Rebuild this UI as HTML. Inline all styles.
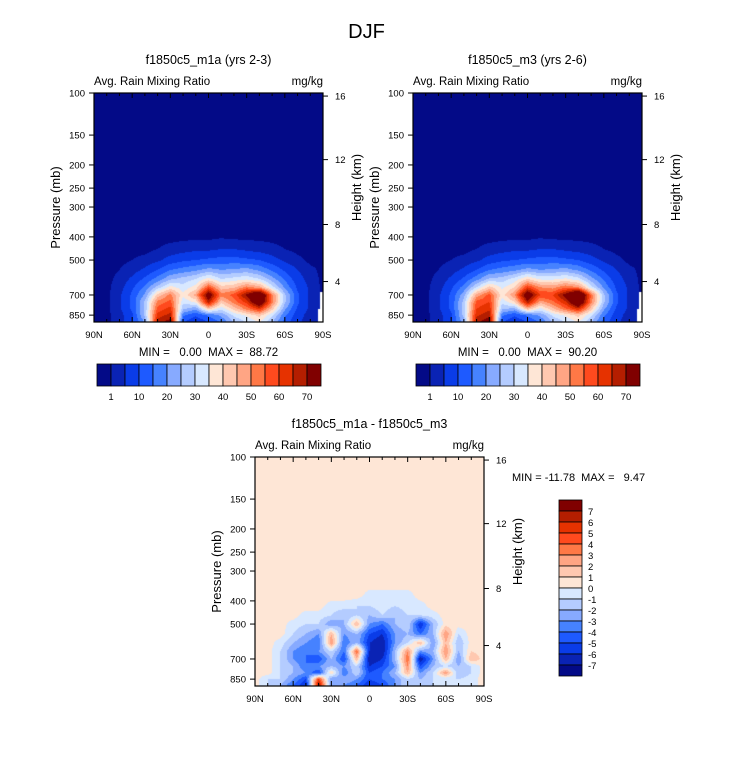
<!DOCTYPE html>
<html><head><meta charset="utf-8">
<style>
body{margin:0;background:#fff;width:733px;height:784px;overflow:hidden;position:relative;font-family:"Liberation Sans",Arial,sans-serif;}
canvas{position:absolute;}
svg{position:absolute;left:0;top:0;}
</style></head>
<body>
<svg id="ax" width="733" height="784"></svg>
<script>
// ---- data ----
const lats = [90,80,70,60,50,40,30,20,10,0,-10,-20,-30,-40,-50,-60,-70,-80,-90];
const levels = [400,450,500,550,600,650,700,750,800,850,900];
const fieldA = [
[0,0,0,0,0,0,0,0,0,0,0.5,0,0,0,0,0,0,0,0],
[0,0,0,0,0,1,2,3,4,4,5,5,4,3,2,1,0,0,0],
[0,0,0,1,2,4,7,9,10,11,12,12,11,10,7,4,2,0,0],
[0,0,1,3,6,10,15,17,19,22,20,21,22,19,14,9,5,2,0],
[0,0,2,6,11,17,24,27,30,37,30,32,34,30,22,14,7,3,0],
[0,0,3,9,16,27,37,32,37,57,42,44,52,47,32,19,9,4,0],
[0,0,4,11,21,42,52,36,47,78,52,57,72,88,52,26,11,4,0],
[0,0,4,11,26,52,57,31,36,67,42,52,62,82,52,26,11,4,0],
[0,0,4,11,26,57,62,26,21,42,31,42,52,62,42,21,9,4,0],
[0,0,3,9,26,62,67,16,11,16,21,31,36,42,31,16,7,3,0],
[0,0,3,9,21,67,72,11,6,11,16,26,31,36,26,13,6,3,0]];
const fieldB = [
[0,0,0,0,0,0,0,0,0,0,0.5,0,0,0,0,0,0,0,0],
[0,0,0,0,0,1,2,3,4,4,5,5,4,3,2,1,0,0,0],
[0,0,0,1,2,4,7,9,10,11,12,12,11,10,7,4,2,0,0],
[0,0,1,3,6,10,15,17,19,22,20,21,22,19,14,9,5,2,0],
[0,0,2,6,11,18,26,27,32,40,34,34,36,32,22,14,7,3,0],
[0,0,3,9,17,30,42,34,40,60,50,48,54,50,32,19,9,4,0],
[0,0,4,11,23,47,57,37,50,80,60,60,74,92,54,26,11,4,0],
[0,0,4,11,27,57,60,31,40,68,47,54,64,84,52,26,11,4,0],
[0,0,4,11,27,60,64,26,23,44,33,44,54,64,42,21,9,4,0],
[0,0,3,9,27,64,68,16,11,16,21,31,36,42,31,16,7,3,0],
[0,0,3,9,23,68,74,11,6,11,16,26,31,36,26,13,6,3,0]];
const diffLevels = [340,380,420,460,500,550,600,650,700,750,800,850,900];
const fieldDiff = [
[.5,.5,.5,.5,.5,.5,.5,.5,.5,.5,.5,.5,.5,.5,.5,.5,.5,.5,.5],
[.5,.5,.5,.5,.5,.5,.5,.5,.5,-0.5,-0.5,-0.5,-0.5,.5,.5,.5,.5,.5,.5],
[.5,.5,.5,.5,.5,.5,-0.5,-0.5,-1,-1,-0.5,-1,-0.5,-0.5,.5,.5,.5,.5,.5],
[.5,.5,.5,.5,-.5,-.5,-1,-2,-1,-2,-1,-2,-1,-1,-.5,.5,.5,.5,.5],
[.5,.5,.5,-.5,-1,-1,-3,-2,2,-3,-4,-2,-1,-6,-2,.5,.5,.5,.5],
[.5,.5,.5,-1,-2,-3,2,-3,-2,-5,-6,-3,-2,-4,-2,3,-1,.5,.5],
[.5,.5,-.5,-2,-3,-4,3,-4,-2,-6,-7,-3,-1,2,-3,2,-2,.5,.5],
[.5,.5,-1,-3,-4,-3,-1,-4,4,-6,-7,-2,3,-3,-2,3,-2,1,.5],
[.5,.5,-1,-3,-4,-5,-2,-5,2,-7,-6,-2,4,-7,-3,2,-3,2,.5],
[.5,.5,-1,-2,-4,-3,-2,-3,-1,-6,-5,-3,3,-5,-2,-1,-2,-1,.5],
[.5,.5,-1,-2,-3,-5,1,-4,-1,-5,-4,-2,2,-3,-1,3,-2,-1,.5],
[.5,-1,-1,-3,-5,5,-3,-2,-3,-5,-4,-3,-1,-2,-1,-1,-1,-.5,.5],
[.5,-1,-2,-4,-6,7,-3,-3,-4,-6,-5,-3,-1,-2,-1,-1,-.5,-.5,.5]];
const boundsTop = [1,5,10,15,20,25,30,35,40,45,50,55,60,65,70];
const boundsDiff = [-7,-6,-5,-4,-3,-2,-1,0,1,2,3,4,5,6,7];
const colors = ['#030a87','#0a23b4','#0a3ce8','#1e5aff','#4682ff','#87aaff','#b4ccff','#d8e8ff','#fee6d6','#ffc8b0','#ffa584','#ff7846','#ff4a1e','#e63200','#b41e00','#800000'];
const pTicks = [100,150,200,250,300,400,500,700,850];
const hTicks = [4,8,12,16];
const hTickP = [615,355,190,103];
const latTicks = [90,60,30,0,-30,-60,-90];
const latLabels = ['90N','60N','30N','0','30S','60S','90S'];
const topCbLabels = ['1','10','20','30','40','50','60','70'];
const diffCbLabels = ['7','6','5','4','3','2','1','0','-1','-2','-3','-4','-5','-6','-7'];

// ---- helpers ----
const NS='http://www.w3.org/2000/svg';
const ax=document.getElementById('ax');
const W=229,H=229,PDEC=239;
function xOf(lat,left){return left+(90-lat)/180*W;}
function yOf(p,top){return top+(Math.log10(p)-2)*PDEC;}
function pOfY(py){return Math.pow(10,2+py/PDEC);}
function colorIdx(v,b){let i=0;while(i<b.length&&v>=b[i])i++;return i;}
function hex(c){return [parseInt(c.slice(1,3),16),parseInt(c.slice(3,5),16),parseInt(c.slice(5,7),16)];}
const rgb=colors.map(hex);
function line(x1,y1,x2,y2,w,name){const l=document.createElementNS(NS,'line');l.setAttribute('x1',x1);l.setAttribute('y1',y1);l.setAttribute('x2',x2);l.setAttribute('y2',y2);l.setAttribute('stroke','#000');l.setAttribute('stroke-width',w||1);


ax.appendChild(l);return l;}
function text(s,x,y,size,anchor,name,rot){const t=document.createElementNS(NS,'text');t.textContent=s;t.setAttribute('x',x);t.setAttribute('y',y);t.setAttribute('font-size',size);t.setAttribute('font-family','"Liberation Sans",Arial,sans-serif');t.setAttribute('text-anchor',anchor||'start');if(rot)t.setAttribute('transform','rotate(-90 '+x+' '+y+')');


ax.appendChild(t);return t;}
function sample(field,lev,lat,p){
  let fi=(90-lat)/10;fi=Math.max(0,Math.min(lats.length-1,fi));
  const i0=Math.min(Math.floor(fi),lats.length-2),fx=fi-i0;
  const lp=Math.log10(p);let j0,fy;
  if(p<=lev[0]){j0=0;fy=0;}else if(p>=lev[lev.length-1]){j0=lev.length-2;fy=1;}
  else{j0=0;while(lev[j0+1]<p)j0++;fy=(lp-Math.log10(lev[j0]))/(Math.log10(lev[j0+1])-Math.log10(lev[j0]));}
  const a=field[j0][i0]*(1-fx)+field[j0][i0+1]*fx;
  const b=field[j0+1][i0]*(1-fx)+field[j0+1][i0+1]*fx;
  return a*(1-fy)+b*fy;}
function drawField(name,left,top,field,lev,bounds,white){
  const c=document.createElement('canvas');c.width=W;c.height=H;c.style.left=left+'px';c.style.top=top+'px';
  
  
  document.body.insertBefore(c,ax);
  const ctx=c.getContext('2d');const img=ctx.createImageData(W,H);
  for(let py=0;py<H;py++){const p=pOfY(py+0.5);
    for(let px=0;px<W;px++){const lat=90-(px+0.5)/W*180;
      let v=sample(field,lev,lat,p);
      let col=rgb[colorIdx(v,bounds)];
      if(white&&((lat<-87.5&&p>680)||(lat<-86&&p>800)))col=[255,255,255];
      const k=(py*W+px)*4;img.data[k]=col[0];img.data[k+1]=col[1];img.data[k+2]=col[2];img.data[k+3]=255;}}
  ctx.putImageData(img,0,0);}
function drawAxes(pfx,left,top){
  const r=document.createElementNS(NS,'rect');r.setAttribute('x',left);r.setAttribute('y',top);r.setAttribute('width',W);r.setAttribute('height',H);r.setAttribute('fill','none');r.setAttribute('stroke','#000');r.setAttribute('stroke-width',1.2);
  
  
  ax.appendChild(r);
  pTicks.forEach(p=>{const y=yOf(p,top);line(left-5,y,left,y,1,pfx+'-pressure-tick');text(String(p),left-9,y+3.5,9.5,'end',pfx+'-pressure-label');});
  hTicks.forEach((h,i)=>{const y=yOf(hTickP[i],top);line(left+W,y,left+W+5,y,1,pfx+'-height-tick');text(String(h),left+W+12,y+3.5,9.5,'start',pfx+'-height-label');});
  for(let lat=90;lat>=-90;lat-=10){const x=xOf(lat,left);const maj=lat%30===0;
    line(x,top+H,x,top+H-(maj?5:3),1,pfx+'-lat-tick');line(x,top,x,top+(maj?5:3),1,pfx+'-lat-tick-top');}
  latTicks.forEach((l,i)=>{text(latLabels[i],xOf(l,left),top+H+16,9.5,'middle',pfx+'-lat-label');});
  text('Pressure (mb)',left-34,top+H/2,13,'middle',pfx+'-y-axis-title',true);
  text('Height (km)',left+W+38,top+H/2-20,13,'middle',pfx+'-right-axis-title',true);
  text('Avg. Rain Mixing Ratio',left,top-8,11.5,'start',pfx+'-subtitle');
  text('mg/kg',left+W,top-8,11.5,'end',pfx+'-units');}
function hColorbar(pfx,left,top,w,h){
  const bw=w/colors.length;
  colors.forEach((c,i)=>{const r=document.createElementNS(NS,'rect');r.setAttribute('x',left+i*bw);r.setAttribute('y',top);r.setAttribute('width',bw);r.setAttribute('height',h);r.setAttribute('fill',c);r.setAttribute('stroke','#000');r.setAttribute('stroke-width',0.8);
    
    
    ax.appendChild(r);});
  topCbLabels.forEach((s,i)=>{text(s,left+bw*(1+2*i),top+h+14,9.5,'middle',pfx+'-colorbar-label');});}

text('DJF',366.5,38,20,'middle','page-title');
// ---- panels ----
const panels=[{p:'left',l:94,t:93,f:fieldA,title:'f1850c5_m1a (yrs 2-3)',mm:'MIN =   0.00  MAX =  88.72'},
              {p:'right',l:413,t:93,f:fieldB,title:'f1850c5_m3 (yrs 2-6)',mm:'MIN =   0.00  MAX =  90.20'}];
panels.forEach(o=>{
  drawField(o.p+'-contour-field',o.l,o.t,o.f,levels,boundsTop,true);
  drawAxes(o.p,o.l,o.t);
  text(o.title,o.l+W/2,o.t-29,12.5,'middle',o.p+'-panel-title');
  text(o.mm.replace(/ /g,'\u00a0'),o.l+W/2,o.t+H+34,11.5,'middle',o.p+'-min-max');
  hColorbar(o.p,o.l+3,364,224,22);
});
// diff panel
drawField('diff-contour-field',255,457,fieldDiff,diffLevels,boundsDiff,false);
drawAxes('diff',255,457);
text('f1850c5_m1a - f1850c5_m3',255+W/2,428,12.5,'middle','diff-panel-title');
text('MIN = -11.78  MAX =   9.47'.replace(/ /g,'\u00a0'),512,481,11,'start','diff-min-max');
(function(){const left=559,top=500,w=23,bh=11;
  colors.slice().reverse().forEach((c,i)=>{const r=document.createElementNS(NS,'rect');r.setAttribute('x',left);r.setAttribute('y',top+i*bh);r.setAttribute('width',w);r.setAttribute('height',bh);r.setAttribute('fill',c);r.setAttribute('stroke','#000');r.setAttribute('stroke-width',0.8);
    
    
    ax.appendChild(r);});
  diffCbLabels.forEach((s,i)=>{text(s,left+w+6,top+(i+1)*bh+4,9.5,'start','diff-colorbar-label');});
})();
</script>
</body></html>
